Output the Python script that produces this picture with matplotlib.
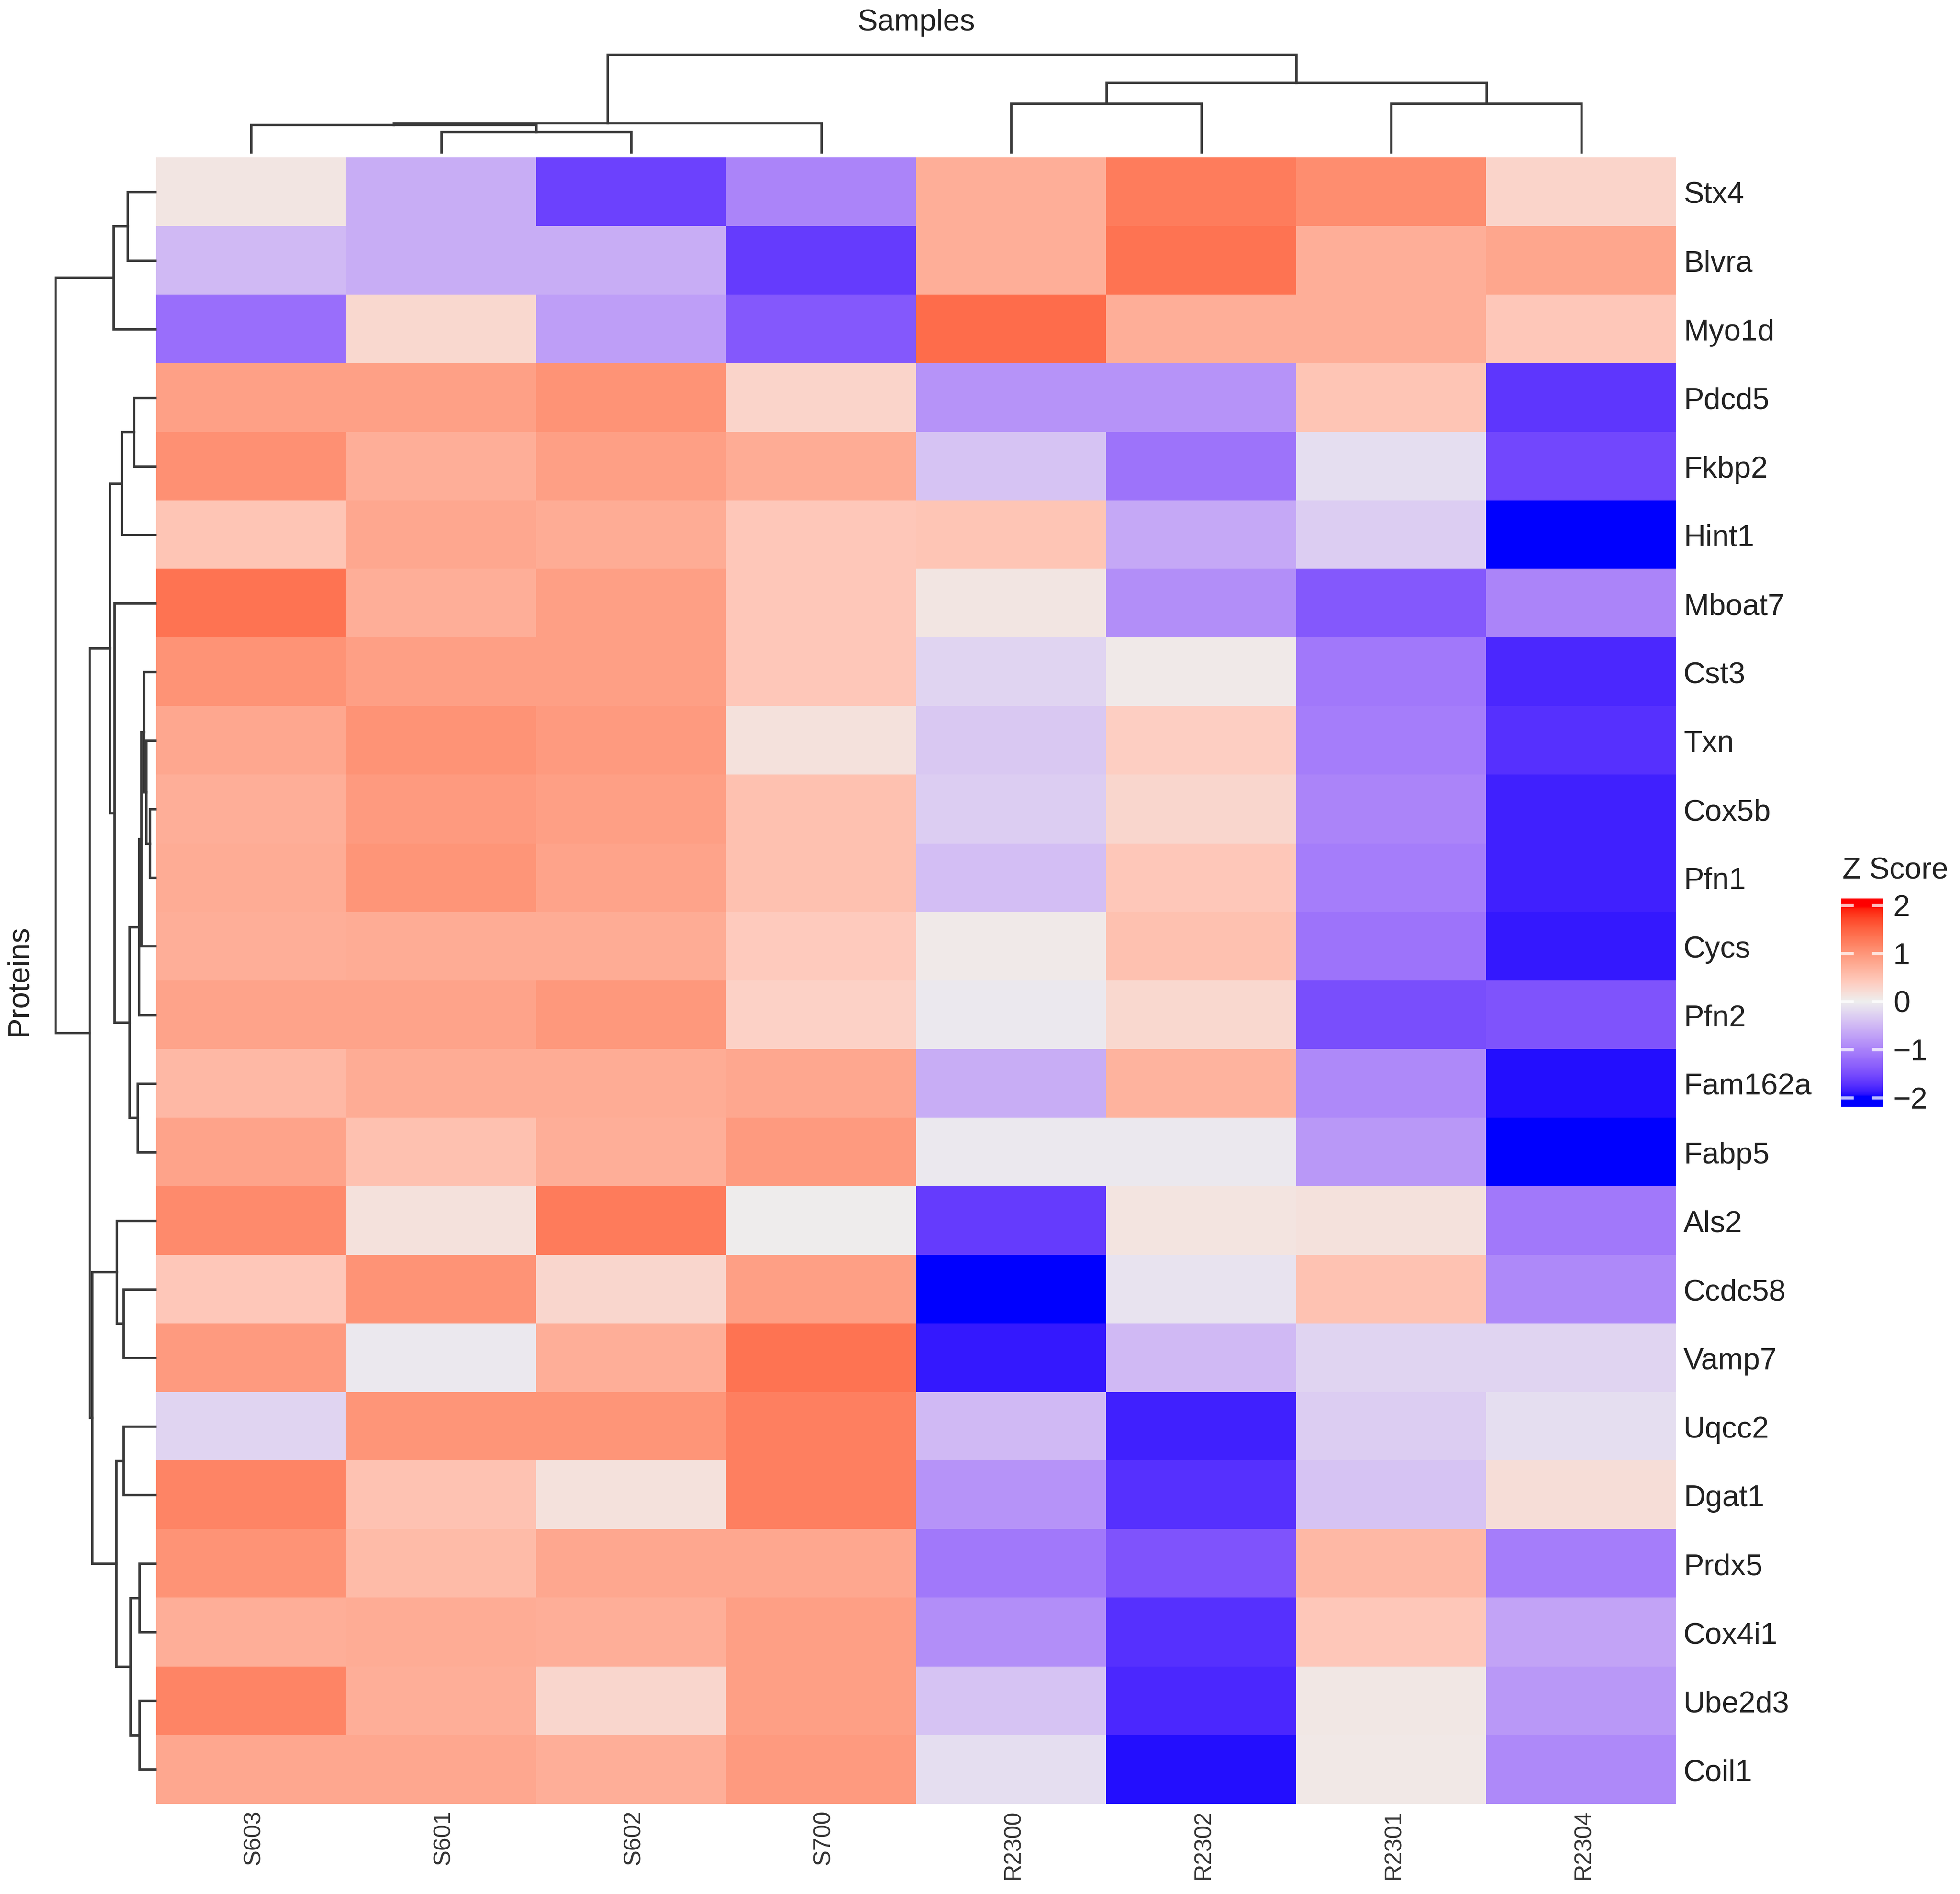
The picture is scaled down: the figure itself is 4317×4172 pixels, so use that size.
import numpy as np
import matplotlib
matplotlib.use('Agg')
import matplotlib.pyplot as plt
from matplotlib.colors import ListedColormap

plt.rcParams['font.family'] = ['Liberation Sans', 'DejaVu Sans']

proteins = ['Stx4', 'Blvra', 'Myo1d', 'Pdcd5', 'Fkbp2', 'Hint1', 'Mboat7', 'Cst3',
            'Txn', 'Cox5b', 'Pfn1', 'Cycs', 'Pfn2', 'Fam162a', 'Fabp5', 'Als2',
            'Ccdc58', 'Vamp7', 'Uqcc2', 'Dgat1', 'Prdx5', 'Cox4i1', 'Ube2d3', 'Coil1']
samples = ['S603', 'S601', 'S602', 'S700', 'R2300', 'R2302', 'R2301', 'R2304']

z_scores = [
    [0.10, -0.60, -1.60, -1.00, 0.72, 1.25, 1.08, 0.30],
    [-0.50, -0.60, -0.60, -1.65, 0.72, 1.35, 0.72, 0.82],
    [-1.20, 0.25, -0.75, -1.40, 1.42, 0.72, 0.72, 0.45],
    [0.88, 0.88, 1.02, 0.30, -0.85, -0.85, 0.48, -1.70],
    [1.06, 0.72, 0.90, 0.76, -0.40, -1.15, -0.15, -1.55],
    [0.48, 0.80, 0.76, 0.45, 0.48, -0.65, -0.30, -2.00],
    [1.35, 0.72, 0.90, 0.45, 0.10, -0.90, -1.40, -1.00],
    [1.02, 0.90, 0.90, 0.45, -0.25, 0.05, -1.10, -1.80],
    [0.80, 1.02, 0.94, 0.15, -0.35, 0.36, -1.05, -1.75],
    [0.72, 0.94, 0.90, 0.53, -0.30, 0.28, -1.00, -1.85],
    [0.76, 1.00, 0.85, 0.53, -0.45, 0.45, -1.05, -1.85],
    [0.72, 0.76, 0.76, 0.42, 0.05, 0.53, -1.15, -1.90],
    [0.85, 0.85, 0.98, 0.33, -0.05, 0.25, -1.50, -1.45],
    [0.62, 0.76, 0.76, 0.80, -0.60, 0.68, -0.95, -1.95],
    [0.85, 0.53, 0.72, 0.94, -0.05, -0.05, -0.80, -2.00],
    [1.12, 0.15, 1.28, 0.02, -1.65, 0.12, 0.15, -1.10],
    [0.45, 1.02, 0.28, 0.90, -2.00, -0.10, 0.50, -0.95],
    [0.94, -0.05, 0.72, 1.35, -1.90, -0.50, -0.25, -0.25],
    [-0.25, 1.00, 1.00, 1.22, -0.50, -1.85, -0.30, -0.15],
    [1.18, 0.50, 0.15, 1.22, -0.85, -1.75, -0.40, 0.20],
    [1.02, 0.58, 0.80, 0.80, -1.10, -1.45, 0.62, -1.05],
    [0.72, 0.76, 0.72, 0.90, -0.90, -1.75, 0.45, -0.70],
    [1.18, 0.72, 0.28, 0.90, -0.40, -1.80, 0.08, -0.80],
    [0.80, 0.80, 0.72, 0.94, -0.15, -1.95, 0.07, -0.95],
]

# dendrograms: (merge height, child, child), ints are leaves
col_tree = (1.0,
            (0.30, (0.28, 0, (0.21, 1, 2)), 3),
            (0.71, (0.50, 4, 5), (0.50, 6, 7)))

row_group_a = (0.418, (0.277, 0, 1), 2)
row_group_p = (0.336, (0.214, 3, 4), 5)
row_group_f = (0.141, (0.114, 7, (0.09, 8, (0.055, 9, 10))), 11)
row_group_d = (0.26, (0.164, row_group_f, 12), (0.177, 13, 14))
row_group_b1 = (0.4545, row_group_p, (0.41, 6, row_group_d))
row_group_b2 = (0.632,
                (0.386, 15, (0.318, 16, 17)),
                (0.39, (0.318, 18, 19), (0.25, (0.159, 20, 21), (0.159, 22, 23))))
row_tree = (1.0, row_group_a, (0.659, row_group_b1, row_group_b2))

legend_ticks = [2, 1, 0, -1, -2]
legend_labels = ['2', '1', '0', '\u22121', '\u22122']

W, H = 4317, 4172
LINE = '#3a3a3a'


def srgb_to_lab(rgb):
    c = np.array(rgb, dtype=float)
    c = np.where(c > 0.04045, ((c + 0.055) / 1.055) ** 2.4, c / 12.92)
    m = np.array([[0.4124, 0.3576, 0.1805], [0.2126, 0.7152, 0.0722], [0.0193, 0.1192, 0.9505]])
    xyz = m @ c / np.array([0.9505, 1.0, 1.089])
    f = np.where(xyz > 0.008856, np.cbrt(xyz), 7.787 * xyz + 16 / 116)
    return np.array([116 * f[1] - 16, 500 * (f[0] - f[1]), 200 * (f[1] - f[2])])


def lab_to_srgb(lab):
    fy = (lab[0] + 16) / 116
    f = np.array([fy + lab[1] / 500, fy, fy - lab[2] / 200])
    xyz = np.where(f ** 3 > 0.008856, f ** 3, (f - 16 / 116) / 7.787) * np.array([0.9505, 1.0, 1.089])
    m = np.array([[3.2406, -1.5372, -0.4986], [-0.9689, 1.8758, 0.0415], [0.0557, -0.2040, 1.0570]])
    c = np.clip(m @ xyz, 0, 1)
    return np.where(c > 0.0031308, 1.055 * c ** (1 / 2.4) - 0.055, 12.92 * c)


# blue - grey - red, interpolated in LAB like colorRamp2
blue, grey, red = [srgb_to_lab(c) for c in ((0, 0, 1), (0.933, 0.933, 0.933), (1, 0, 0))]
ramp = [lab_to_srgb(blue + (grey - blue) * t) for t in np.linspace(0, 1, 128)]
ramp += [lab_to_srgb(grey + (red - grey) * t) for t in np.linspace(0, 1, 128)]
cmap = ListedColormap(ramp)


def px_axes(fig, left, top, right, bottom):
    ax = fig.add_axes([left / W, 1 - bottom / H, (right - left) / W, (bottom - top) / H])
    ax.set_axis_off()
    return ax


def draw_tree(ax, node, horizontal):
    # returns leaf-axis position and height of the node
    if isinstance(node, int):
        return node + 0.5, 0.0
    h, left, right = node
    p1, h1 = draw_tree(ax, left, horizontal)
    p2, h2 = draw_tree(ax, right, horizontal)
    pos = [p1, p1, p2, p2]
    hts = [h1, h, h, h2]
    if horizontal:
        ax.plot(hts, pos, color=LINE, lw=1.3, solid_joinstyle='miter', clip_on=False)
    else:
        ax.plot(pos, hts, color=LINE, lw=1.3, solid_joinstyle='miter', clip_on=False)
    return (p1 + p2) / 2, h


fig = plt.figure(figsize=(W / 300, H / 300), dpi=300, facecolor='white')
PX = 72 / 300  # one output pixel in points

ax_hm = px_axes(fig, 344, 347, 3692, 3973)
ax_hm.imshow(np.array(z_scores), cmap=cmap, vmin=-2, vmax=2, aspect='auto',
             interpolation='nearest', extent=[0, len(samples), len(proteins), 0])

for i, name in enumerate(proteins):
    ax_hm.annotate(name, (1, i + 0.5), xycoords=ax_hm.get_yaxis_transform(),
                   xytext=(16 * PX, -8 * PX), textcoords='offset points',
                   ha='left', va='center', fontsize=16, color='#222222')
for j, name in enumerate(samples):
    ax_hm.annotate(name, (j + 0.5, 0), xycoords=ax_hm.get_xaxis_transform(),
                   xytext=(5 * PX, -14 * PX), textcoords='offset points',
                   ha='center', va='top', rotation=90, fontsize=12.5, color='#333333')

ax_top = px_axes(fig, 344, 120, 3692, 335)
ax_top.set_xlim(0, len(samples))
ax_top.set_ylim(0, 1)
draw_tree(ax_top, col_tree, False)

ax_left = px_axes(fig, 122, 347, 342, 3973)
ax_left.set_xlim(1, 0)
ax_left.set_ylim(len(proteins), 0)
draw_tree(ax_left, row_tree, True)

fig.text(2018 / W, 1 - 50 / H, 'Samples', ha='center', va='center', fontsize=16, color='#222222')
fig.text(42 / W, 1 - 2160 / H, 'Proteins', ha='center', va='center', rotation=90,
         fontsize=16, color='#222222')

# colour legend
ax_leg = px_axes(fig, 4055, 1979, 4148, 2438)
ax_leg.imshow(np.linspace(2.14, -2.19, 256)[:, None], cmap=cmap, vmin=-2, vmax=2, aspect='auto',
              extent=[0, 1, -2.19, 2.14])
ax_leg.set_xlim(0, 1)
ax_leg.set_ylim(-2.19, 2.14)
for t, lab in zip(legend_ticks, legend_labels):
    ax_leg.plot([0, 0.26], [t, t], color='white', lw=1.6, alpha=0.75)
    ax_leg.plot([0.76, 1], [t, t], color='white', lw=1.6, alpha=0.75)
    ax_leg.annotate(lab, (1, t), xycoords=ax_leg.get_yaxis_transform(),
                    xytext=(22 * PX, -7 * PX), textcoords='offset points',
                    ha='left', va='center', fontsize=16, color='#222222')
fig.text(4058 / W, 1 - 1918 / H, 'Z Score', ha='left', va='center', fontsize=16, color='#222222')

fig.savefig('out.png', dpi=300)
